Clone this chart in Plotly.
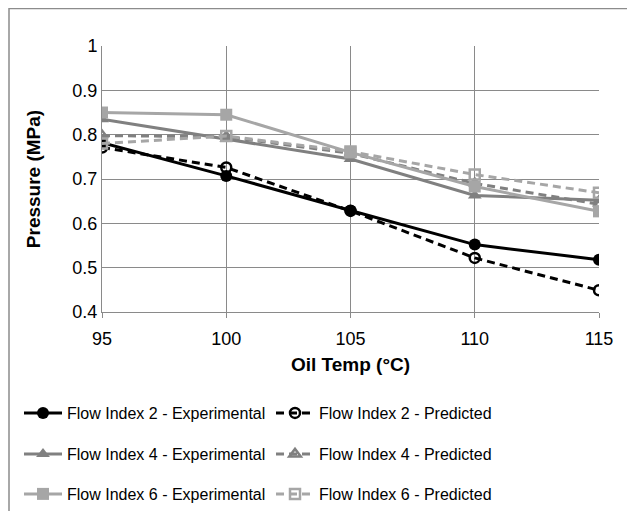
import plotly.graph_objects as go

oil_temp = [95, 100, 105, 110, 115]
fi2_exp = [0.782, 0.707, 0.629, 0.552, 0.518]
fi2_pred = [0.771, 0.726, 0.628, 0.522, 0.449]
fi4_exp = [0.835, 0.790, 0.745, 0.663, 0.652]
fi4_pred = [0.798, 0.795, 0.758, 0.690, 0.643]
fi6_exp = [0.850, 0.845, 0.760, 0.683, 0.627]
fi6_pred = [0.780, 0.797, 0.762, 0.710, 0.669]

y_ticks = [0.4, 0.5, 0.6, 0.7, 0.8, 0.9, 1.0]
y_tick_text = ["0.4", "0.5", "0.6", "0.7", "0.8", "0.9", "1"]
x_ticks = [95, 100, 105, 110, 115]

BLACK = "#000000"
DARK = "#808080"
LIGHT = "#a6a6a6"
GRID = "#8a8a8a"
DASH = "8px,5px"

series = [
    ("Flow Index 2 - Experimental", fi2_exp, BLACK, "solid", "circle", "legend"),
    ("Flow Index 2 - Predicted", fi2_pred, BLACK, DASH, "circle-open", "legend"),
    ("Flow Index 4 - Experimental", fi4_exp, DARK, "solid", "triangle-up", "legend2"),
    ("Flow Index 4 - Predicted", fi4_pred, DARK, DASH, "triangle-up-open", "legend2"),
    ("Flow Index 6 - Experimental", fi6_exp, LIGHT, "solid", "square", "legend3"),
    ("Flow Index 6 - Predicted", fi6_pred, LIGHT, DASH, "square-open", "legend3"),
]

fig = go.Figure()
for name, vals, color, dash, sym, lg in series:
    is_open = "open" in sym
    fig.add_trace(go.Scatter(
        x=oil_temp, y=vals, name=name, mode="lines+markers", legend=lg,
        line=dict(color=color, width=3, dash=dash),
        marker=dict(symbol=sym, size=10 if is_open else 12, color=color,
                    line=dict(color=color, width=2.5 if is_open else 0)),
    ))

# page is offset by 8px body margin
W, H = 627, 503
L, T = 94, 38
R = W - 591
B = H - 304
pw, ph = W - L - R, H - T - B


def legend_at(ypix):
    return dict(
        orientation="h", x=(11 - L) / pw, xanchor="left",
        y=(T + ph - ypix) / ph, yanchor="middle",
        entrywidth=199, entrywidthmode="pixels",
        font=dict(size=16, color="#000000"), itemwidth=38,
        bgcolor="rgba(0,0,0,0)",
    )


fig.update_layout(
    width=W, height=H,
    margin=dict(l=L, r=R, t=T, b=B, autoexpand=False),
    paper_bgcolor="white", plot_bgcolor="white",
    font=dict(family="Liberation Sans, Arial, sans-serif", size=18, color="#000000"),
    showlegend=True,
    legend=legend_at(405),
    legend2=legend_at(446),
    legend3=legend_at(486),
    xaxis=dict(
        range=[95, 115], tickvals=x_ticks, showgrid=True, gridcolor=GRID, gridwidth=1,
        showline=True, linecolor=GRID, linewidth=1, ticks="outside", ticklen=5,
        tickcolor=GRID, zeroline=False, automargin=False, ticklabelstandoff=5,
        title=dict(text="<b>Oil Temp (°C)</b>", font=dict(size=19), standoff=10),
        tickfont=dict(size=18),
    ),
    yaxis=dict(
        range=[0.4, 1.0], tickvals=y_ticks, ticktext=y_tick_text, showgrid=True,
        gridcolor=GRID, gridwidth=1, showline=True, linecolor=GRID, linewidth=1,
        ticks="", zeroline=False, automargin=False,
        title=dict(text="<b>Pressure (MPa)</b>", font=dict(size=19), standoff=26),
        tickfont=dict(size=18),
    ),
    yaxis2=dict(
        range=[0.4, 1.0], tickvals=y_ticks, overlaying="y", side="left",
        showgrid=False, showline=False, zeroline=False, showticklabels=False,
        ticks="outside", ticklen=5, tickcolor=GRID, automargin=False,
    ),
    shapes=[dict(
        type="rect", xref="paper", yref="paper",
        x0=(1 - L) / pw, x1=(W + 20 - L) / pw,
        y0=-(H + 20 - T - ph) / ph, y1=1 + (T - 0.5) / ph,
        line=dict(color="#8c8c8c", width=1.5), fillcolor="rgba(0,0,0,0)", layer="below",
    )],
)

fig.write_html("out.html")
